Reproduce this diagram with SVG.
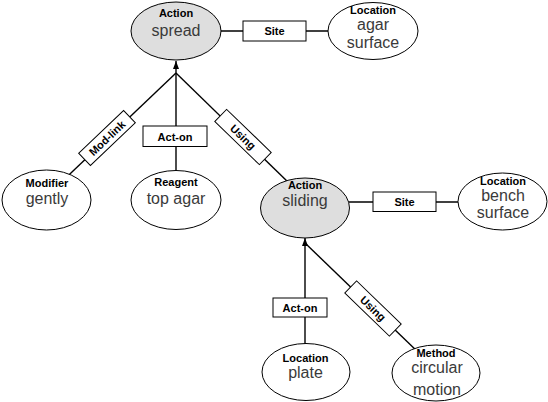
<svg xmlns="http://www.w3.org/2000/svg" width="548" height="402" viewBox="0 0 548 402">
<style>
.bg{fill:#fff}
.node ellipse{fill:#fff;stroke:#000;stroke-width:1}
.node.action ellipse{fill:#dedede}
.type{font-family:"Liberation Sans",Arial,sans-serif;font-size:11px;font-weight:bold;fill:#000;text-anchor:middle}
.val{font-family:"Liberation Sans",Arial,sans-serif;font-size:16px;fill:#3a3a3a;text-anchor:middle}
.conn line{stroke:#000;stroke-width:1.4;fill:none}
.lbl rect{fill:#fff;stroke:#000;stroke-width:1}
.lbl text{font-family:"Liberation Sans",Arial,sans-serif;font-size:11px;font-weight:bold;fill:#000;text-anchor:middle}
</style>
<defs>
<marker id="arr" viewBox="0 0 8 6" refX="8" refY="3" markerWidth="8" markerHeight="6" markerUnits="userSpaceOnUse" orient="auto">
<path d="M0,0 L8,3 L0,6 Z" fill="#000"/>
</marker>
</defs>
<rect class="bg" x="0" y="0" width="548" height="402"/>
<g id="connectors" class="conn">
<line x1="221" y1="31" x2="328" y2="31"/>
<line x1="349" y1="202" x2="458" y2="202"/>
<line x1="176" y1="172" x2="176" y2="61" marker-end="url(#arr)"/>
<line x1="176" y1="73" x2="62" y2="181.5"/>
<line x1="176" y1="73" x2="290" y2="184"/>
<line x1="305" y1="344" x2="305" y2="238" marker-end="url(#arr)"/>
<line x1="305" y1="243" x2="420" y2="354"/>
<g class="lbl" id="lbl-site1"><rect x="243" y="21" width="63" height="20"/><text x="274.5" y="35">Site</text></g>
<g class="lbl" id="lbl-site2"><rect x="373" y="192" width="63" height="19.5"/><text x="404.5" y="206">Site</text></g>
<g class="lbl" id="lbl-acton1"><rect x="143" y="126" width="64" height="20.5"/><text x="175" y="140.5">Act-on</text></g>
<g class="lbl" id="lbl-acton2"><rect x="273" y="298" width="54" height="19"/><text x="300" y="311.5">Act-on</text></g>
<g class="lbl" id="lbl-modlink" transform="translate(107,138) rotate(-43.6)"><rect x="-31" y="-8.5" width="62" height="17"/><text x="0" y="4">Mod-link</text></g>
<g class="lbl" id="lbl-using1" transform="translate(243,137) rotate(44)"><rect x="-31" y="-8.5" width="62" height="17"/><text x="0" y="4">Using</text></g>
<g class="lbl" id="lbl-using2" transform="translate(373,308.5) rotate(44)"><rect x="-31" y="-8.5" width="62" height="17"/><text x="0" y="4">Using</text></g>
</g>
<g id="n-spread" class="node action"><ellipse cx="176" cy="31" rx="45" ry="29"/><text class="type" x="176" y="17">Action</text><text class="val" x="176" y="36">spread</text></g>
<g id="n-agar" class="node"><ellipse cx="373" cy="31" rx="45" ry="28.5"/><text class="type" x="373" y="14">Location</text><text class="val" x="373" y="30">agar</text><text class="val" x="373" y="48">surface</text></g>
<g id="n-gently" class="node"><ellipse cx="46.5" cy="200" rx="44.5" ry="30"/><text class="type" x="47" y="186.5">Modifier</text><text class="val" x="47" y="204">gently</text></g>
<g id="n-topagar" class="node"><ellipse cx="176" cy="200" rx="45" ry="29.5"/><text class="type" x="176" y="186">Reagent</text><text class="val" x="176" y="204">top agar</text></g>
<g id="n-sliding" class="node action"><ellipse cx="305" cy="208" rx="44.5" ry="30"/><text class="type" x="305" y="188.5">Action</text><text class="val" x="305" y="206">sliding</text></g>
<g id="n-bench" class="node"><ellipse cx="502.5" cy="201.5" rx="44.5" ry="28.5"/><text class="type" x="503" y="184.5">Location</text><text class="val" x="503" y="200.5">bench</text><text class="val" x="503" y="218">surface</text></g>
<g id="n-plate" class="node"><ellipse cx="306" cy="372" rx="44" ry="28.5"/><text class="type" x="305.5" y="362">Location</text><text class="val" x="305.5" y="378">plate</text></g>
<g id="n-motion" class="node"><ellipse cx="436" cy="373" rx="44" ry="28"/><text class="type" x="436" y="357">Method</text><text class="val" x="437" y="373">circular</text><text class="val" x="437" y="395">motion</text></g>
</svg>
